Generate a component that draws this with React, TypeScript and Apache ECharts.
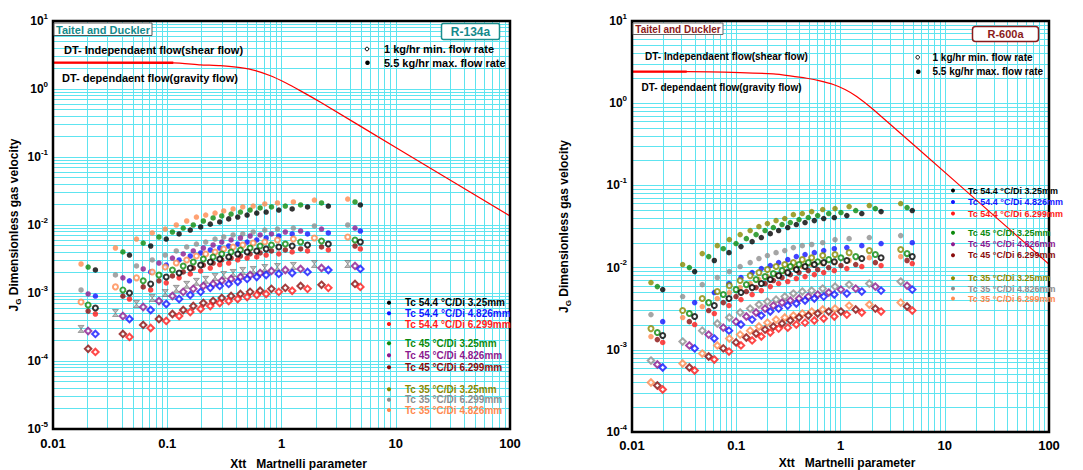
import React, { useEffect, useRef } from 'react';
import * as echarts from 'echarts';

// ---------------- LEFT PANEL: R-134a ----------------
// Martinelli parameter Xtt per condensing temperature
const xL_Tc35 = [0.0176, 0.0352, 0.0538, 0.0739, 0.096, 0.12, 0.148, 0.18, 0.217, 0.262, 0.312, 0.377, 0.458, 0.565, 0.714, 0.922, 1.27, 1.94, 3.8];
const xL_Tc45 = [0.0203, 0.0409, 0.0616, 0.0846, 0.111, 0.138, 0.169, 0.207, 0.252, 0.3, 0.362, 0.437, 0.531, 0.65, 0.817, 1.08, 1.47, 2.24, 4.4];
const xL_Tc54 = [0.0235, 0.0467, 0.0716, 0.098, 0.127, 0.159, 0.196, 0.238, 0.288, 0.345, 0.414, 0.5, 0.607, 0.734, 0.947, 1.24, 1.69, 2.57, 4.9];

// JG values, 5.5 kg/hr (filled)
const L_black_max = [0.00218, 0.00362, 0.00491, 0.00622, 0.00738, 0.00844, 0.00935, 0.0103, 0.0111, 0.0123, 0.0131, 0.014, 0.015, 0.0155, 0.0166, 0.0172, 0.0184, 0.019, 0.0197];
const L_blue_max = [0.000903, 0.00151, 0.00204, 0.00258, 0.00306, 0.0035, 0.00388, 0.00429, 0.00459, 0.00491, 0.00525, 0.00562, 0.00602, 0.00644, 0.00689, 0.00738, 0.00738, 0.00763, 0.00816];
const L_red_max = [0.000491, 0.000816, 0.00111, 0.00141, 0.00167, 0.00191, 0.00211, 0.00233, 0.00262, 0.00276, 0.00306, 0.00327, 0.00339, 0.00362, 0.00375, 0.00401, 0.00415, 0.00429, 0.00444];
const L_green_max = [0.00241, 0.00401, 0.00543, 0.00666, 0.00789, 0.00903, 0.01, 0.01145, 0.0127, 0.0136, 0.0145, 0.0155, 0.0166, 0.0178, 0.0184, 0.019, 0.0197, 0.0211, 0.0218];
const L_purple_max = [0.000967, 0.00167, 0.00226, 0.00276, 0.00327, 0.00375, 0.00415, 0.00459, 0.00508, 0.00562, 0.00602, 0.00644, 0.00689, 0.00713, 0.00738, 0.00789, 0.00816, 0.00873, 0.00903];
const L_darkred_max = [0.000543, 0.000903, 0.00123, 0.00151, 0.00178, 0.00204, 0.00233, 0.00258, 0.00276, 0.00306, 0.00327, 0.0035, 0.00375, 0.00388, 0.00415, 0.00429, 0.00444, 0.00475, 0.00491];
const L_gray_max = [0.00111, 0.00184, 0.0025, 0.00306, 0.00362, 0.00415, 0.00475, 0.00525, 0.00562, 0.00622, 0.00666, 0.00713, 0.00738, 0.00789, 0.00844, 0.00873, 0.00903, 0.00967, 0.01];
const L_orange_max = [0.00267, 0.00459, 0.00622, 0.00763, 0.00873, 0.01, 0.01145, 0.0131, 0.014, 0.015, 0.0161, 0.0172, 0.0184, 0.019, 0.0204, 0.0211, 0.0218, 0.0233, 0.0241];

// JG values, 1 kg/hr (open)
const L_black_min = [0.000602, 0.001, 0.00136, 0.00172, 0.00197, 0.00233, 0.00258, 0.00286, 0.00316, 0.00339, 0.00375, 0.00401, 0.00415, 0.00444, 0.00475, 0.00491, 0.00508, 0.00525, 0.00562];
const L_blue_min = [0.00025, 0.000415, 0.000562, 0.000689, 0.000816, 0.000935, 0.00104, 0.00119, 0.00127, 0.00136, 0.00146, 0.00161, 0.00172, 0.00184, 0.00191, 0.00197, 0.00204, 0.00218, 0.00226];
const L_red_min = [0.000136, 0.000226, 0.000306, 0.000388, 0.000459, 0.000525, 0.000582, 0.000644, 0.000713, 0.000763, 0.000816, 0.000873, 0.000935, 0.000967, 0.00104, 0.00108, 0.00115, 0.00119, 0.00123];
const L_green_min = [0.000666, 0.00111, 0.00151, 0.00184, 0.00218, 0.0025, 0.00286, 0.00316, 0.00339, 0.00375, 0.00401, 0.00429, 0.00459, 0.00491, 0.00508, 0.00525, 0.00562, 0.00582, 0.00602];
const L_purple_min = [0.000276, 0.000459, 0.000622, 0.000763, 0.000903, 0.00104, 0.00115, 0.00127, 0.00136, 0.00151, 0.00161, 0.00172, 0.00184, 0.00197, 0.00211, 0.00218, 0.00226, 0.00233, 0.0025];
const L_darkred_min = [0.000151, 0.00025, 0.000339, 0.000415, 0.000491, 0.000562, 0.000644, 0.000713, 0.000763, 0.000844, 0.000903, 0.000967, 0.00104, 0.00108, 0.00115, 0.00119, 0.00127, 0.00132, 0.00136];
const L_gray_min = [0.000296, 0.000508, 0.000689, 0.000844, 0.001, 0.00115, 0.00132, 0.00146, 0.00156, 0.00172, 0.00184, 0.00197, 0.00211, 0.00218, 0.00233, 0.00241, 0.0025, 0.00267, 0.00267];
const L_orange_min = [0.000738, 0.00123, 0.00167, 0.00204, 0.00241, 0.00276, 0.00306, 0.0035, 0.00375, 0.00401, 0.00444, 0.00475, 0.00508, 0.00543, 0.00562, 0.00602, 0.00622, 0.00644, 0.00666];

// Taitel & Dukler boundary (left)
const curveL_x = [0.01, 0.113, 0.195, 0.292, 0.437, 0.591, 0.801, 1.084, 1.468, 2.198, 11.07, 100];
const curveL_y = [2.44, 2.43, 2.27, 2.2, 2.06, 1.865, 1.564, 1.234, 0.938, 0.637, 0.1246, 0.01355];

// ---------------- RIGHT PANEL: R-600a ----------------
const xR_Tc35 = [0.0152, 0.0306, 0.0472, 0.0658, 0.0858, 0.109, 0.136, 0.165, 0.199, 0.241, 0.292, 0.353, 0.43, 0.529, 0.675, 0.886, 1.21, 1.89, 3.78];
const xR_Tc45 = [0.0175, 0.0355, 0.0544, 0.0751, 0.0995, 0.125, 0.155, 0.189, 0.227, 0.275, 0.33, 0.4, 0.491, 0.604, 0.771, 1.01, 1.4, 2.16, 4.35];
const xR_Tc54 = [0.0197, 0.0399, 0.0616, 0.0852, 0.111, 0.142, 0.174, 0.212, 0.255, 0.312, 0.377, 0.457, 0.561, 0.69, 0.872, 1.15, 1.6, 2.45, 4.88];

const R_olive_max = [0.00657, 0.0109, 0.0148, 0.0185, 0.0219, 0.0252, 0.0282, 0.0315, 0.0343, 0.0373, 0.0395, 0.0441, 0.0454, 0.048, 0.0508, 0.0522, 0.0552, 0.0568, 0.0601];
const R_green_max = [0.00587, 0.01, 0.0136, 0.017, 0.0196, 0.0225, 0.0252, 0.0282, 0.0307, 0.0334, 0.0353, 0.0384, 0.0406, 0.0429, 0.0454, 0.0467, 0.0494, 0.0522, 0.0537];
const R_black_max = [0.0054, 0.00894, 0.0122, 0.0152, 0.018, 0.0207, 0.0232, 0.0259, 0.0282, 0.0307, 0.0334, 0.0353, 0.0373, 0.0395, 0.0406, 0.0429, 0.0454, 0.048, 0.0494];
const R_gray_max = [0.00268, 0.00444, 0.00621, 0.00756, 0.00894, 0.0103, 0.0115, 0.0129, 0.014, 0.0152, 0.0161, 0.0175, 0.0185, 0.0191, 0.0201, 0.0219, 0.0225, 0.0232, 0.0245];
const R_blue_max = [0.0022, 0.00375, 0.00497, 0.00639, 0.00756, 0.00869, 0.00972, 0.0106, 0.0115, 0.0125, 0.0136, 0.0144, 0.0152, 0.0161, 0.017, 0.0175, 0.0185, 0.0196, 0.0201];
const R_orange_max = [0.00145, 0.00247, 0.00336, 0.0042, 0.00497, 0.00571, 0.00639, 0.00715, 0.00777, 0.00822, 0.00894, 0.01, 0.0103, 0.0109, 0.0112, 0.0115, 0.0122, 0.0132, 0.0136];
const R_darkred_max = [0.00133, 0.0022, 0.003, 0.00375, 0.00444, 0.00511, 0.00571, 0.00639, 0.00695, 0.00756, 0.00822, 0.00869, 0.00919, 0.00946, 0.01, 0.0106, 0.0109, 0.0115, 0.0122];
const R_red_max = [0.00123, 0.00203, 0.00276, 0.00345, 0.00408, 0.0047, 0.00525, 0.00587, 0.00639, 0.00676, 0.00735, 0.00777, 0.00822, 0.00869, 0.00919, 0.00972, 0.0103, 0.0106, 0.0112];

const R_olive_min = [0.00181, 0.003, 0.0042, 0.00511, 0.00604, 0.00695, 0.00799, 0.00869, 0.00946, 0.0103, 0.0109, 0.0115, 0.0125, 0.0132, 0.014, 0.0144, 0.0152, 0.0161, 0.0166];
const R_green_min = [0.00162, 0.00276, 0.00375, 0.0047, 0.0054, 0.00621, 0.00715, 0.00777, 0.00845, 0.00919, 0.0103, 0.0109, 0.0115, 0.0118, 0.0125, 0.0132, 0.0136, 0.0144, 0.0148];
const R_black_min = [0.00149, 0.00254, 0.00345, 0.0042, 0.00497, 0.00571, 0.00639, 0.00715, 0.00799, 0.00869, 0.00946, 0.0103, 0.0109, 0.0115, 0.0118, 0.0122, 0.0129, 0.0132, 0.0136];
const R_gray_min = [0.00074, 0.00126, 0.00171, 0.00209, 0.00247, 0.00284, 0.00317, 0.00355, 0.00386, 0.00408, 0.00444, 0.00483, 0.00511, 0.00525, 0.00555, 0.00587, 0.00621, 0.00639, 0.00676];
const R_purple_min = [0.000662, 0.00113, 0.00153, 0.00186, 0.0022, 0.00254, 0.00284, 0.00317, 0.00345, 0.00375, 0.00397, 0.0042, 0.00444, 0.0047, 0.00497, 0.0054, 0.00555, 0.00587, 0.00604];
const R_blue_min = [0.000609, 0.00104, 0.00137, 0.00171, 0.00203, 0.00233, 0.00261, 0.00292, 0.00317, 0.00345, 0.00365, 0.00397, 0.0042, 0.00444, 0.0047, 0.00483, 0.00511, 0.00525, 0.0054];
const R_orange_min = [0.0004, 0.000681, 0.0009, 0.00113, 0.00137, 0.00153, 0.00171, 0.00192, 0.00214, 0.00233, 0.00247, 0.00261, 0.00276, 0.00292, 0.00309, 0.00317, 0.00345, 0.00355, 0.00375];
const R_darkred_min = [0.000368, 0.000609, 0.000828, 0.00104, 0.00123, 0.00141, 0.00158, 0.00176, 0.00192, 0.00209, 0.00227, 0.00247, 0.00261, 0.00276, 0.00292, 0.00292, 0.00309, 0.00317, 0.00336];
const R_red_min = [0.000329, 0.00056, 0.000761, 0.000952, 0.00113, 0.0013, 0.00145, 0.00162, 0.00181, 0.00186, 0.00203, 0.00214, 0.00227, 0.0024, 0.00254, 0.00268, 0.00284, 0.00292, 0.003];

// Taitel & Dukler boundary (right)
const curveR_x = [0.01, 0.0335, 0.109, 0.227, 0.328, 0.474, 0.636, 0.853, 1.105, 1.43, 2.064, 14.0, 100];
const curveR_y = [2.42, 2.42, 2.36, 2.27, 2.15, 2.01, 1.87, 1.69, 1.47, 1.21, 0.838, 0.0994, 0.011];

// legend labels
const legendLeftLabels = ['Tc 54.4 °C/Di 3.25mm', 'Tc 54.4 °C/Di 4.826mm', 'Tc 54.4 °C/Di 6.299mm', 'Tc 45 °C/Di 3.25mm', 'Tc 45 °C/Di 4.826mm', 'Tc 45 °C/Di 6.299mm', 'Tc 35 °C/Di 3.25mm', 'Tc 35 °C/Di 6.299mm', 'Tc 35 °C/Di 4.826mm'];
const legendRightLabels = ['Tc 54.4 °C/Di 3.25mm', 'Tc 54.4 °C/Di 4.826mm', 'Tc 54.4 °C/Di 6.299mm', 'Tc 45 °C/Di 3.25mm', 'Tc 45 °C/Di 4.826mm', 'Tc 45 °C/Di 6.299mm', 'Tc 35 °C/Di 3.25mm', 'Tc 35 °C/Di 4.826mm', 'Tc 35 °C/Di 6.299mm'];

// ---------------- styling ----------------
const FONT = '"Liberation Sans", Arial, Helvetica, sans-serif';
const GRID_COLOR = '#5ee4f0';
const C = {
  black: '#000000', blue: '#1414ff', red: '#ff1a1a', green: '#0d8a0d', purple: '#8c1a8f',
  darkred: '#8b0c0c', olive: '#8a8a00', gray: '#8e8e8e', orange: '#ff8a4f',
};
const legendLeftColors = [C.black, C.blue, C.red, C.green, C.purple, C.darkred, C.olive, C.gray, C.orange];
const legendRightColors = [C.black, C.blue, C.red, C.green, C.purple, C.darkred, C.olive, C.gray, C.orange];

const GL = { left: 53, top: 21, width: 457, height: 408 };
const GR = { left: 632, top: 21, width: 417, height: 411 };

const zip = (xs: number[], ys: number[]) => ys.map((y, i) => [xs[i], y]);

function sym(kind: string, color: string) {
  if (kind === 'filled') return { symbol: 'circle', symbolSize: 5.5, itemStyle: { color } };
  if (kind === 'ring') return { symbol: 'emptyCircle', symbolSize: 5, itemStyle: { color, borderColor: color, borderWidth: 1.5 } };
  if (kind === 'hour') return { symbol: 'path://M0,0L10,0L5,5L10,10L0,10L5,5Z', symbolSize: [6, 7], itemStyle: { color: '#ababab', borderColor: '#555', borderWidth: 0.6 } };
  return { symbol: 'emptyDiamond', symbolSize: 6.5, itemStyle: { color, borderColor: color, borderWidth: 1.5 } };
}

type SDef = { name: string; x: number[]; y: number[]; color: string; kind: string };

const leftDefs: SDef[] = [
  { name: 'Tc 35 °C/Di 4.826mm 5.5 kg/hr', x: xL_Tc35, y: L_orange_max, color: C.orange, kind: 'filled' },
  { name: 'Tc 45 °C/Di 3.25mm 5.5 kg/hr', x: xL_Tc45, y: L_green_max, color: C.green, kind: 'filled' },
  { name: 'Tc 54.4 °C/Di 3.25mm 5.5 kg/hr', x: xL_Tc54, y: L_black_max, color: C.black, kind: 'filled' },
  { name: 'Tc 35 °C/Di 6.299mm 5.5 kg/hr', x: xL_Tc35, y: L_gray_max, color: C.gray, kind: 'filled' },
  { name: 'Tc 45 °C/Di 4.826mm 5.5 kg/hr', x: xL_Tc45, y: L_purple_max, color: C.purple, kind: 'filled' },
  { name: 'Tc 54.4 °C/Di 4.826mm 5.5 kg/hr', x: xL_Tc54, y: L_blue_max, color: C.blue, kind: 'filled' },
  { name: 'Tc 45 °C/Di 6.299mm 5.5 kg/hr', x: xL_Tc45, y: L_darkred_max, color: C.darkred, kind: 'filled' },
  { name: 'Tc 54.4 °C/Di 6.299mm 5.5 kg/hr', x: xL_Tc54, y: L_red_max, color: C.red, kind: 'filled' },
  { name: 'Tc 35 °C/Di 4.826mm 1 kg/hr', x: xL_Tc35, y: L_orange_min, color: C.orange, kind: 'ring' },
  { name: 'Tc 45 °C/Di 3.25mm 1 kg/hr', x: xL_Tc45, y: L_green_min, color: C.green, kind: 'ring' },
  { name: 'Tc 54.4 °C/Di 3.25mm 1 kg/hr', x: xL_Tc54, y: L_black_min, color: C.black, kind: 'ring' },
  { name: 'Tc 35 °C/Di 6.299mm 1 kg/hr', x: xL_Tc35, y: L_gray_min, color: C.gray, kind: 'hour' },
  { name: 'Tc 45 °C/Di 4.826mm 1 kg/hr', x: xL_Tc45, y: L_purple_min, color: C.purple, kind: 'diamond' },
  { name: 'Tc 54.4 °C/Di 4.826mm 1 kg/hr', x: xL_Tc54, y: L_blue_min, color: C.blue, kind: 'diamond' },
  { name: 'Tc 45 °C/Di 6.299mm 1 kg/hr', x: xL_Tc45, y: L_darkred_min, color: C.darkred, kind: 'diamond' },
  { name: 'Tc 54.4 °C/Di 6.299mm 1 kg/hr', x: xL_Tc54, y: L_red_min, color: C.red, kind: 'diamond' },
];

const rightDefs: SDef[] = [
  { name: 'R600a Tc 35 °C/Di 3.25mm 5.5 kg/hr', x: xR_Tc35, y: R_olive_max, color: C.olive, kind: 'filled' },
  { name: 'R600a Tc 45 °C/Di 3.25mm 5.5 kg/hr', x: xR_Tc45, y: R_green_max, color: C.green, kind: 'filled' },
  { name: 'R600a Tc 54.4 °C/Di 3.25mm 5.5 kg/hr', x: xR_Tc54, y: R_black_max, color: C.black, kind: 'filled' },
  { name: 'R600a Tc 35 °C/Di 4.826mm 5.5 kg/hr', x: xR_Tc35, y: R_gray_max, color: C.gray, kind: 'filled' },
  { name: 'R600a Tc 54.4 °C/Di 4.826mm 5.5 kg/hr', x: xR_Tc54, y: R_blue_max, color: C.blue, kind: 'filled' },
  { name: 'R600a Tc 35 °C/Di 6.299mm 5.5 kg/hr', x: xR_Tc35, y: R_orange_max, color: C.orange, kind: 'filled' },
  { name: 'R600a Tc 45 °C/Di 6.299mm 5.5 kg/hr', x: xR_Tc45, y: R_darkred_max, color: C.darkred, kind: 'filled' },
  { name: 'R600a Tc 54.4 °C/Di 6.299mm 5.5 kg/hr', x: xR_Tc54, y: R_red_max, color: C.red, kind: 'filled' },
  { name: 'R600a Tc 35 °C/Di 3.25mm 1 kg/hr', x: xR_Tc35, y: R_olive_min, color: C.olive, kind: 'ring' },
  { name: 'R600a Tc 45 °C/Di 3.25mm 1 kg/hr', x: xR_Tc45, y: R_green_min, color: C.green, kind: 'ring' },
  { name: 'R600a Tc 54.4 °C/Di 3.25mm 1 kg/hr', x: xR_Tc54, y: R_black_min, color: C.black, kind: 'ring' },
  { name: 'R600a Tc 35 °C/Di 4.826mm 1 kg/hr', x: xR_Tc35, y: R_gray_min, color: C.gray, kind: 'diamond' },
  { name: 'R600a Tc 45 °C/Di 4.826mm 1 kg/hr', x: xR_Tc45, y: R_purple_min, color: C.purple, kind: 'diamond' },
  { name: 'R600a Tc 54.4 °C/Di 4.826mm 1 kg/hr', x: xR_Tc54, y: R_blue_min, color: C.blue, kind: 'diamond' },
  { name: 'R600a Tc 35 °C/Di 6.299mm 1 kg/hr', x: xR_Tc35, y: R_orange_min, color: C.orange, kind: 'diamond' },
  { name: 'R600a Tc 45 °C/Di 6.299mm 1 kg/hr', x: xR_Tc45, y: R_darkred_min, color: C.darkred, kind: 'diamond' },
  { name: 'R600a Tc 54.4 °C/Di 6.299mm 1 kg/hr', x: xR_Tc54, y: R_red_min, color: C.red, kind: 'diamond' },
];

const gridLineStyle = { color: GRID_COLOR, width: 1, type: 'solid', opacity: 1 };

function xAxisFor(gridIndex: number, nameGap: number, padLeft: number, margin: number) {
  return {
    gridIndex, type: 'log', logBase: 10, min: 0.01, max: 100, splitNumber: 4,
    axisLine: { show: true, lineStyle: { color: '#000', width: 2 } },
    axisTick: { show: false },
    axisLabel: { color: '#000', fontWeight: 'bold', fontSize: 13, fontFamily: FONT, margin, showMinLabel: true, showMaxLabel: true },
    splitLine: { show: true, lineStyle: gridLineStyle },
    minorTick: { show: false, splitNumber: 9 },
    minorSplitLine: { show: true, lineStyle: gridLineStyle },
    name: 'Xtt   Martnelli parameter', nameLocation: 'middle', nameGap,
    nameTextStyle: { color: '#000', fontWeight: 'bold', fontSize: 12, fontFamily: FONT, padding: [0, 0, 0, padLeft] },
  };
}

function yAxisFor(gridIndex: number, min: number, splitNumber: number, nameGap: number) {
  return {
    gridIndex, type: 'log', logBase: 10, min, max: 10, splitNumber,
    axisLine: { show: true, lineStyle: { color: '#000', width: 2 } },
    axisTick: { show: false },
    axisLabel: {
      color: '#000', margin: 5, showMinLabel: true, showMaxLabel: true,
      formatter: (v: number) => `{b|10}{s|${Math.round(Math.log10(v))}}`,
      rich: {
        b: { fontSize: 12, fontWeight: 'bold', fontFamily: FONT, lineHeight: 18, color: '#000' },
        s: { fontSize: 8, fontWeight: 'bold', fontFamily: FONT, lineHeight: 9, verticalAlign: 'top', color: '#000' },
      },
    },
    splitLine: { show: true, lineStyle: gridLineStyle },
    minorTick: { show: false, splitNumber: 9 },
    minorSplitLine: { show: true, lineStyle: gridLineStyle },
    name: '{a|J}{g|G}{a| Dimensionless gas velocity}', nameLocation: 'middle', nameGap, nameRotate: 90,
    nameTextStyle: {
      rich: {
        a: { fontSize: 12, fontWeight: 'bold', fontFamily: FONT, lineHeight: 16, color: '#000' },
        g: { fontSize: 8, fontWeight: 'bold', fontFamily: FONT, lineHeight: 9, verticalAlign: 'bottom', color: '#000' },
      },
    },
  };
}

function scatterSeries(defs: SDef[], idx: number) {
  return defs.map((d) => ({
    type: 'scatter', name: d.name, xAxisIndex: idx, yAxisIndex: idx, silent: true, z: 3,
    data: zip(d.x, d.y), ...sym(d.kind, d.color),
  }));
}

function curveSeries(xs: number[], ys: number[], idx: number, name: string) {
  return [
    {
      type: 'line', name: name + ' (segment)', xAxisIndex: idx, yAxisIndex: idx, silent: true, z: 4,
      data: zip(xs.slice(0, 2), ys.slice(0, 2)), showSymbol: false, symbol: 'none',
      lineStyle: { color: '#ff0000', width: 2.4 },
    },
    {
      type: 'line', name, xAxisIndex: idx, yAxisIndex: idx, silent: true, z: 4,
      data: zip(xs, ys), showSymbol: false, symbol: 'none', smooth: 0.2,
      lineStyle: { color: '#ff0000', width: 1.2 },
    },
  ];
}

function txt(x: number, y: number, text: string, fill: string, font: string, align = 'left') {
  return { type: 'text', x, y, z: 60, silent: true, style: { text, fill, font, align, verticalAlign: 'middle' } };
}

function buildGraphics() {
  const g: any[] = [];
  // frames
  g.push({ type: 'rect', z: 50, silent: true, shape: { x: GL.left, y: GL.top, width: GL.width, height: GL.height }, style: { fill: 'none', stroke: '#000', lineWidth: 2.5 } });
  g.push({ type: 'rect', z: 50, silent: true, shape: { x: GR.left, y: GR.top, width: GR.width, height: GR.height }, style: { fill: 'none', stroke: '#000', lineWidth: 2.5 } });

  // --- left annotations
  g.push({ type: 'rect', z: 55, silent: true, shape: { x: 54, y: 23, width: 98, height: 12.5 }, style: { fill: '#fff', stroke: '#555', lineWidth: 1 } });
  g.push(txt(103, 29.5, 'Taitel and Duckler', '#14898b', `bold 11px ${FONT}`, 'center'));
  g.push({ type: 'rect', z: 55, silent: true, shape: { x: 441.5, y: 23.5, width: 58, height: 16, r: 2 }, style: { fill: '#fff', stroke: '#1a8f8f', lineWidth: 1.5 } });
  g.push(txt(470.5, 31.5, 'R-134a', '#14898b', `bold 12px ${FONT}`, 'center'));
  g.push(txt(64, 50, 'DT- Independaent flow(shear flow)', '#000', `bold 11px ${FONT}`));
  g.push(txt(62, 78, 'DT- dependaent flow(gravity flow)', '#000', `bold 11px ${FONT}`));
  g.push({ type: 'circle', z: 60, silent: true, shape: { cx: 367, cy: 49, r: 1.8 }, style: { fill: '#fff', stroke: '#000', lineWidth: 1 } });
  g.push(txt(384, 49, '1 kg/hr min. flow rate', '#000', `bold 11px ${FONT}`));
  g.push({ type: 'circle', z: 60, silent: true, shape: { cx: 367.5, cy: 62.7, r: 2.3 }, style: { fill: '#000' } });
  g.push(txt(384, 62.7, '5.5 kg/hr max. flow rate', '#000', `bold 11px ${FONT}`));
  const rowsL = [302.7, 313.3, 324, 343.3, 355.3, 367.3, 389.3, 399.7, 410];
  legendLeftLabels.forEach((lab, i) => {
    g.push({ type: 'circle', z: 60, silent: true, shape: { cx: 389, cy: rowsL[i], r: 2.1 }, style: { fill: legendLeftColors[i] } });
    g.push(txt(405, rowsL[i], lab, legendLeftColors[i], `bold 10px ${FONT}`));
  });

  // --- right annotations
  g.push({ type: 'rect', z: 55, silent: true, shape: { x: 633, y: 23, width: 90, height: 11.5 }, style: { fill: '#fff', stroke: '#666', lineWidth: 1 } });
  g.push(txt(678, 29, 'Taitel and Duckler', '#8b1a1a', `bold 10px ${FONT}`, 'center'));
  g.push({ type: 'rect', z: 55, silent: true, shape: { x: 972.5, y: 26.5, width: 66, height: 15, r: 3 }, style: { fill: '#fff', stroke: '#8b1a1a', lineWidth: 1.5 } });
  g.push(txt(1005.5, 34, 'R-600a', '#8b1a1a', `bold 11px ${FONT}`, 'center'));
  g.push(txt(645, 56.7, 'DT- Independaent flow(shear flow)', '#000', `bold 10px ${FONT}`));
  g.push(txt(641.5, 87.3, 'DT- dependaent flow(gravity flow)', '#000', `bold 10px ${FONT}`));
  g.push({ type: 'circle', z: 60, silent: true, shape: { cx: 917.7, cy: 57.3, r: 1.8 }, style: { fill: '#fff', stroke: '#000', lineWidth: 1 } });
  g.push(txt(932.5, 57.3, '1 kg/hr min. flow rate', '#000', `bold 10px ${FONT}`));
  g.push({ type: 'circle', z: 60, silent: true, shape: { cx: 918.3, cy: 71.7, r: 2.3 }, style: { fill: '#000' } });
  g.push(txt(932.5, 71.7, '5.5 kg/hr max. flow rate', '#000', `bold 10px ${FONT}`));
  const rowsR = [190.5, 202, 213.5, 232.7, 244.3, 255.3, 278.3, 288.5, 298.5];
  legendRightLabels.forEach((lab, i) => {
    g.push({ type: 'circle', z: 60, silent: true, shape: { cx: 953, cy: rowsR[i], r: 2 }, style: { fill: legendRightColors[i] } });
    g.push(txt(968, rowsR[i], lab, legendRightColors[i], `bold 9px ${FONT}`));
  });
  return g;
}

function buildOption() {
  return {
    animation: false,
    backgroundColor: '#fff',
    textStyle: { fontFamily: FONT },
    grid: [
      { ...GL, containLabel: false, outerBoundsMode: 'none', show: true, backgroundColor: '#fff', borderWidth: 0 },
      { ...GR, containLabel: false, outerBoundsMode: 'none', show: true, backgroundColor: '#fff', borderWidth: 0 },
    ],
    xAxis: [xAxisFor(0, 29, 34, 8), xAxisFor(1, 23, 13, 7)],
    yAxis: [yAxisFor(0, 1e-5, 6, 31), yAxisFor(1, 1e-4, 5, 60)],
    series: [
      ...curveSeries(curveL_x, curveL_y, 0, 'Taitel-Dukler boundary R-134a'),
      ...scatterSeries(leftDefs, 0),
      ...curveSeries(curveR_x, curveR_y, 1, 'Taitel-Dukler boundary R-600a'),
      ...scatterSeries(rightDefs, 1),
    ],
    graphic: buildGraphics(),
  };
}

export default function App() {
  const ref = useRef<HTMLDivElement>(null);
  useEffect(() => {
    if (!ref.current) return;
    const chart = echarts.init(ref.current, null, { renderer: 'svg' });
    chart.setOption(buildOption() as any);
    return () => chart.dispose();
  }, []);
  return (
    <div
      ref={ref}
      style={{ position: 'fixed', left: 0, top: 0, width: 1083, height: 470, background: '#fff' }}
    />
  );
}
